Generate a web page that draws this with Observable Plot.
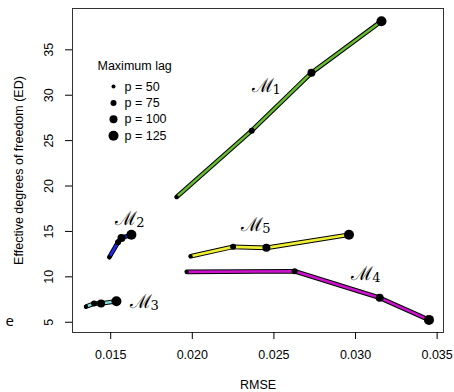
<!DOCTYPE html>
<html>
<head>
<meta charset="utf-8">
<script src="https://cdn.jsdelivr.net/npm/d3@7"></script>
<script src="https://cdn.jsdelivr.net/npm/@observablehq/plot@0.6"></script>
<style>
  html, body { margin: 0; padding: 0; background: #fff; }
  svg { display: block; }
</style>
</head>
<body>
<div id="chart"></div>
<script>
// ---- data ----
const pValues = [50, 75, 100, 125];
const models = ["M1", "M2", "M3", "M4", "M5"];
const modelNumbers = ["1", "2", "3", "4", "5"];
const modelColors = ["#66bb2e", "#1e28f0", "#80dcdc", "#cc11cc", "#eeee35"];

const rmseM1 = [0.01904, 0.02364, 0.02730, 0.03159];
const edM1   = [18.8, 26.1, 32.47, 38.15];
const rmseM2 = [0.01492, 0.01545, 0.01566, 0.01627];
const edM2   = [12.16, 13.81, 14.29, 14.63];
const rmseM3 = [0.01349, 0.01398, 0.01441, 0.01535];
const edM3   = [6.72, 7.06, 7.07, 7.31];
const rmseM4 = [0.01966, 0.02627, 0.03148, 0.03450];
const edM4   = [10.55, 10.62, 7.69, 5.26];
const rmseM5 = [0.01990, 0.02250, 0.02454, 0.02960];
const edM5   = [12.27, 13.30, 13.19, 14.63];

// label anchor positions (data units)
const labelRmse = [0.02462, 0.01627, 0.01714, 0.03073, 0.02399];
const labelEd   = [31.07, 16.42, 7.2, 10.33, 15.76];

const xTicks = [0.015, 0.020, 0.025, 0.030, 0.035];
const yTicks = [5, 10, 15, 20, 25, 30, 35];

// ---- build table ----
const rmseAll = [rmseM1, rmseM2, rmseM3, rmseM4, rmseM5];
const edAll = [edM1, edM2, edM3, edM4, edM5];
const rows = [];
models.forEach((m, i) => {
  pValues.forEach((p, j) => {
    rows.push({model: m, p, rmse: rmseAll[i][j], ed: edAll[i][j]});
  });
});
const labels = models.map((m, i) => ({model: m, num: modelNumbers[i], rmse: labelRmse[i], ed: labelEd[i]}));

const font = "'Liberation Sans', Arial, Helvetica, sans-serif";

const legendMarks = [
  Plot.text(["Maximum lag"], {frameAnchor: "top-left", dx: 25, dy: 57, text: d => d, textAnchor: "start", lineAnchor: "middle", fontSize: 12.5, fill: "black"})
];
pValues.forEach((p, i) => {
  legendMarks.push(Plot.dot([p], {frameAnchor: "top-left", dx: 41, dy: 78 + i * 16.4, r: d => d, fill: "black", stroke: "none"}));
  legendMarks.push(Plot.text([p], {frameAnchor: "top-left", dx: 52, dy: 78 + i * 16.4, text: d => `p = ${d}`, textAnchor: "start", lineAnchor: "middle", fontSize: 12.5, fill: "black"}));
});

const chart = Plot.plot({
  width: 454,
  height: 392,
  marginLeft: 72,
  marginRight: 11,
  marginTop: 8,
  marginBottom: 60,
  style: {fontFamily: font, fontSize: "12.5px", background: "#fff", color: "#000"},
  x: {domain: [0.01266, 0.03539]},
  y: {domain: [3.87, 39.55]},
  r: {type: "linear", domain: [0, 125], range: [0, 5]},
  color: {domain: models, range: modelColors},
  marks: [
    Plot.frame({stroke: "#333"}),
    Plot.axisX({ticks: xTicks, tickSize: 7, tickPadding: 10.5, tickFormat: d3.format(".3f"), label: null}),
    Plot.axisY({ticks: yTicks, tickSize: 7, tickFormat: () => "", label: null}),
    Plot.text(yTicks, {y: d => d, frameAnchor: "left", dx: -24, rotate: -90, text: d => String(d), textAnchor: "middle", lineAnchor: "middle", fontSize: 12.5, fill: "black"}),
    Plot.text(["RMSE"], {frameAnchor: "bottom", dy: 52, text: d => d, textAnchor: "middle", lineAnchor: "middle", fontSize: 12.5, fill: "black"}),
    Plot.text(["Effective degrees of freedom (ED)"], {frameAnchor: "left", dx: -54, rotate: -90, text: d => d, textAnchor: "middle", lineAnchor: "middle", fontSize: 12.5, fill: "black"}),
    Plot.line(rows, {x: "rmse", y: "ed", z: "model", stroke: "black", strokeWidth: 4.6}),
    Plot.line(rows, {x: "rmse", y: "ed", z: "model", stroke: "model", strokeWidth: 2.6}),
    Plot.dot(rows, {x: "rmse", y: "ed", r: "p", fill: "black", stroke: "none"}),
    Plot.text(labels, {x: "rmse", y: "ed", text: () => "\u2133", fontFamily: "'DejaVu Serif', serif", fontSize: 19, dx: -5, fill: "black"}),
    Plot.text(labels, {x: "rmse", y: "ed", text: "num", fontFamily: "'DejaVu Serif', serif", fontSize: 13, dx: 9, dy: 4, fill: "black"}),
    ...legendMarks,
    Plot.text(["e"], {frameAnchor: "bottom-left", dx: -67, dy: -11, text: d => d, textAnchor: "start", lineAnchor: "middle", fontFamily: "'Open Sans', sans-serif", fontSize: 15, fill: "black"})
  ]
});
document.getElementById("chart").appendChild(chart);
</script>
</body>
</html>
